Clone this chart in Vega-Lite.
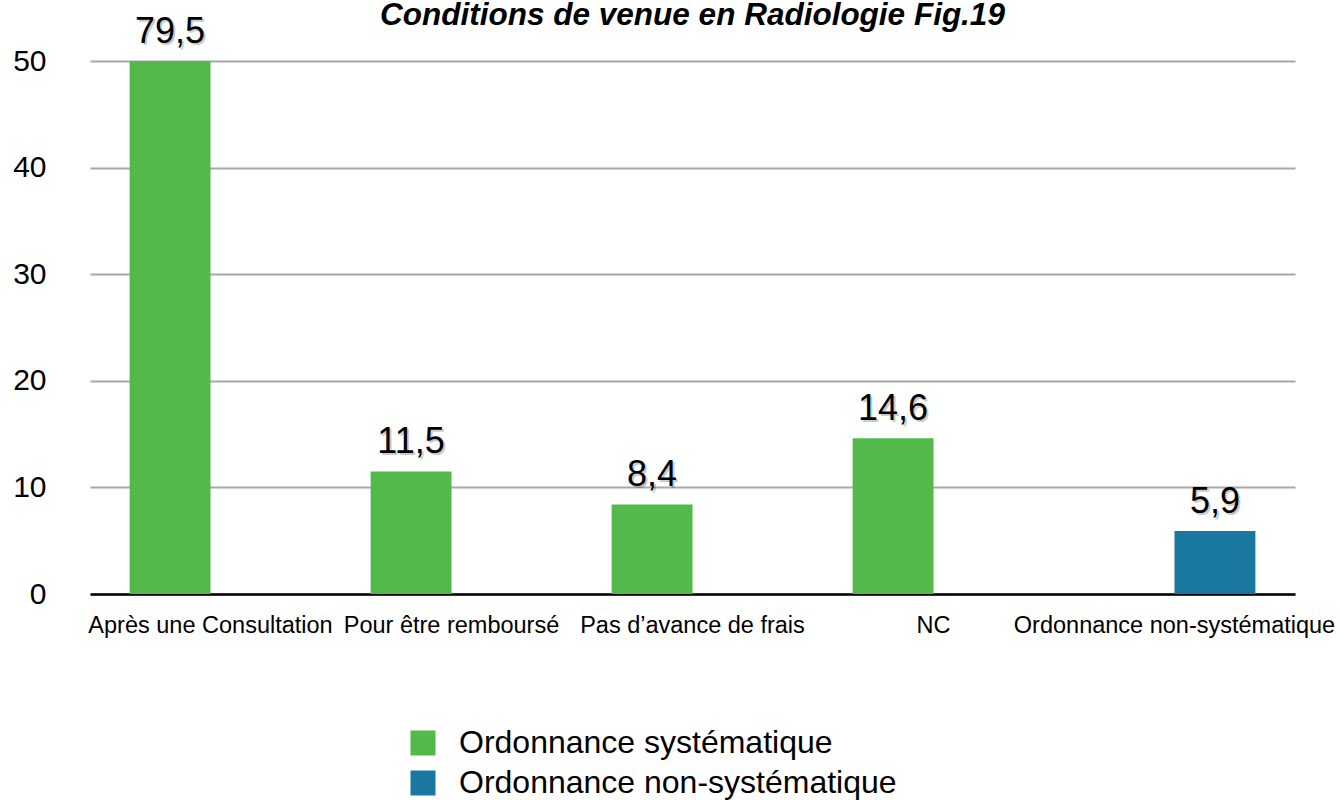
{
  "$schema": "https://vega.github.io/schema/vega-lite/v6.json",
  "width": 1205,
  "height": 533,
  "autosize": {"type": "none"},
  "padding": {"left": 90, "top": 61, "right": 45, "bottom": 206},
  "background": "white",
  "config": {
    "locale": {"number": {"decimal": ",", "thousands": " ", "grouping": [3], "currency": ["", " €"]}},
    "view": {"stroke": null},
    "font": "Liberation Sans"
  },
  "title": {
    "text": "Conditions de venue en Radiologie Fig.19",
    "fontStyle": "italic",
    "fontWeight": "bold",
    "fontSize": 31.5,
    "anchor": "middle",
    "baseline": "alphabetic",
    "offset": -42,
    "color": "black"
  },
  "data": {
    "values": [
      {"cat": "Après une Consultation", "serie": "Ordonnance systématique", "v": 79.5},
      {"cat": "Pour être remboursé", "serie": "Ordonnance systématique", "v": 11.5},
      {"cat": "Pas d’avance de frais", "serie": "Ordonnance systématique", "v": 8.4},
      {"cat": "NC", "serie": "Ordonnance systématique", "v": 14.6},
      {"cat": "Ordonnance non-systématique", "serie": "Ordonnance non-systématique", "v": 5.9}
    ]
  },
  "encoding": {
    "x": {
      "field": "cat",
      "type": "nominal",
      "sort": null,
      "scale": {"paddingInner": 0, "paddingOuter": 0},
      "axis": {
        "title": null,
        "labelAngle": 0,
        "labelFontSize": 23.5,
        "labelColor": "black",
        "labelPadding": 19,
        "ticks": false,
        "domainColor": "black",
        "domainWidth": 2.5,
        "labelLimit": 400
      }
    },
    "xOffset": {
      "field": "serie",
      "type": "nominal",
      "scale": {"domain": ["Ordonnance systématique", "Ordonnance non-systématique"], "paddingInner": 0, "paddingOuter": 0.49}
    },
    "y": {
      "field": "v",
      "type": "quantitative",
      "scale": {"domain": [0, 50], "clamp": true},
      "axis": {
        "title": null,
        "values": [0, 10, 20, 30, 40, 50],
        "domain": false,
        "ticks": false,
        "gridColor": "#a8a8a8",
        "gridWidth": 2,
        "labelFontSize": 30,
        "labelColor": "black",
        "labelPadding": 44
      }
    }
  },
  "layer": [
    {
      "mark": {"type": "bar"},
      "encoding": {
        "color": {
          "field": "serie",
          "type": "nominal",
          "scale": {"domain": ["Ordonnance systématique", "Ordonnance non-systématique"], "range": ["#53b94a", "#1a77a0"]},
          "legend": {
            "title": null,
            "orient": "none",
            "legendX": 317,
            "legendY": 666,
            "symbolType": "square",
            "symbolSize": 625,
            "symbolStrokeWidth": 0,
            "symbolOpacity": 1,
            "labelFontSize": 32,
            "labelColor": "black",
            "labelOffset": 20,
            "rowPadding": 8,
            "labelLimit": 600
          }
        }
      }
    },
    {
      "mark": {"type": "text", "fontSize": 36, "baseline": "middle", "dy": -27, "dx": 2, "color": "black", "opacity": 0.2},
      "encoding": {"text": {"field": "v", "type": "quantitative", "format": ".1f"}}
    },
    {
      "mark": {"type": "text", "fontSize": 36, "baseline": "middle", "dy": -29, "color": "black"},
      "encoding": {"text": {"field": "v", "type": "quantitative", "format": ".1f"}}
    }
  ]
}
